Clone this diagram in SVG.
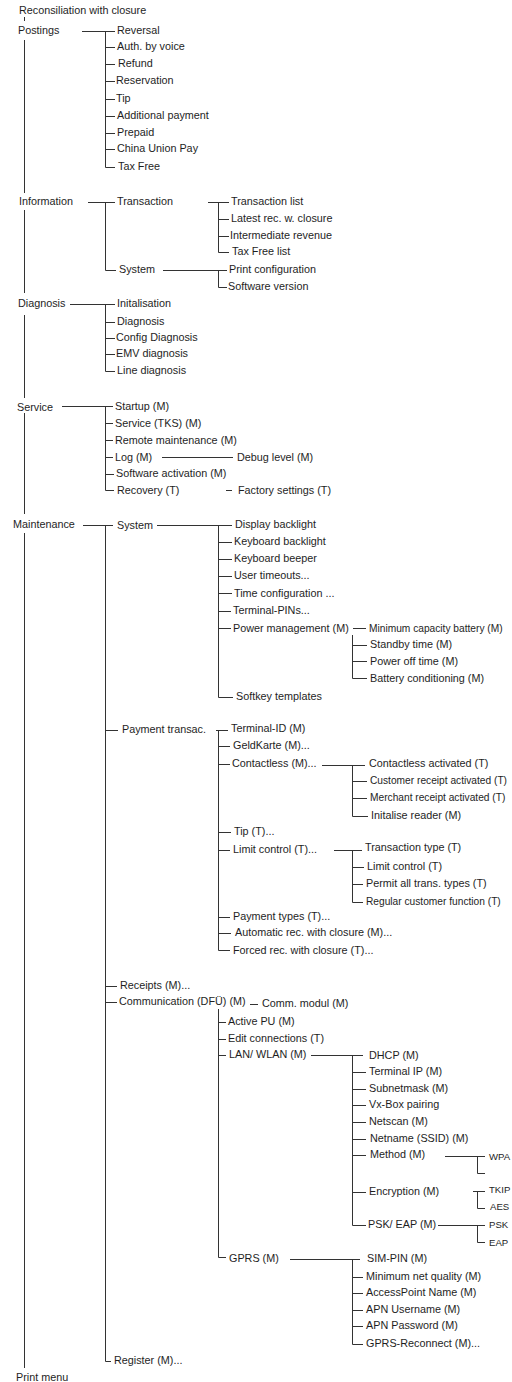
<svg xmlns="http://www.w3.org/2000/svg" width="512" height="1382" viewBox="0 0 512 1382">
<style>
text{font-family:"Liberation Sans",Arial,sans-serif;font-size:10.8px;fill:#1e1e1e}
.s{font-size:10.2px}
.xs{font-size:9.6px}
.c path{stroke:#333;stroke-width:1;fill:none}
</style>
<rect width="512" height="1382" fill="#fff"/>
<g class="c" id="connectors">
<path d="M24.5 17V21M24.5 40V193M24.5 210V293M24.5 315V398M24.5 413V514M24.5 533V1368"/>
<path d="M82 31.5H115M105.5 31.5V167.5H115M105 47.5H115M105 64.5H115M105 81.5H115M105 99.5H115M105 116.5H115M105 133.5H115M105 149.5H115"/>
<path d="M88 202.5H115M105.5 202.5V270.5H116M208 202.5H229M218.5 202.5V252.5H229M218 219.5H229M218 236.5H229M163 270.5H227M218.5 270.5V287.5H227"/>
<path d="M70 304.5H115M105.5 304.5V371.5H115M105 322.5H115M105 338.5H115M105 354.5H115"/>
<path d="M62 406.5H113M105.5 406.5V490.5H114M105 423.5H113M105 440.5H113M105 457.5H113M105 474.5H114M162 457.5H233M226 490.5H232"/>
<path d="M83 525.5H113M105.5 525.5V1361.5H111"/>
<path d="M157 525.5H232M218.5 525.5V697.5H233M218 542.5H232M218 559.5H232M218 576.5H232M218 593.5H232M218 611.5H231M218 628.5H231M353 628.5H366M352.5 635V678.5H367M352 645.5H367M352 661.5H367"/>
<path d="M105 730.5H118M216 730.5H228M218.5 730.5V950.5H230M218 746.5H230M218 764.5H230M218 832.5H231M218 850.5H230M218 917.5H230M218 933.5H231M322 765.5H365M352.5 765.5V816.5H368M352 781.5H367M352 798.5H367M334 850.5H362M352.5 850.5V902.5H363M352 867.5H364M352 884.5H363"/>
<path d="M105 986.5H117M105 1002.5H117M250 1004.5H258M218.5 1009V1257.5H226M218 1022.5H226M218 1039.5H226M218 1055.5H226M311 1055.5H363M352.5 1055.5V1225.5H366M352 1072.5H366M352 1089.5H366M352 1105.5H366M352 1122.5H366M352 1139.5H366M352 1155.5H366M352 1192.5H366M445 1156.5H485M477.5 1156.5V1173.5H485M473 1191.5H485M477.5 1191.5V1208.5H485M438 1225.5H485M477.5 1225.5V1242.5H485"/>
<path d="M290 1259.5H360M352.5 1259.5V1344.5H363M352 1277.5H363M352 1293.5H363M352 1310.5H363M352 1326.5H363"/>
</g>
<g id="n-recon"><text x="19" y="14">Reconsiliation with closure</text></g>
<g id="n-postings"><text x="18" y="34">Postings</text></g>
<g id="n-reversal"><text x="117" y="34">Reversal</text></g>
<g id="n-auth"><text x="117" y="50">Auth. by voice</text></g>
<g id="n-refund"><text x="118" y="67">Refund</text></g>
<g id="n-reservation"><text x="116" y="84">Reservation</text></g>
<g id="n-tip"><text x="116" y="102">Tip</text></g>
<g id="n-addpay"><text x="117" y="119">Additional payment</text></g>
<g id="n-prepaid"><text x="117" y="136">Prepaid</text></g>
<g id="n-cup"><text x="117" y="152">China Union Pay</text></g>
<g id="n-taxfree"><text x="118" y="170">Tax Free</text></g>
<g id="n-information"><text x="19" y="205">Information</text></g>
<g id="n-transaction"><text x="117" y="205">Transaction</text></g>
<g id="n-translist"><text x="231" y="205">Transaction list</text></g>
<g id="n-latest"><text x="231" y="222">Latest rec. w. closure</text></g>
<g id="n-interm"><text x="230" y="239">Intermediate revenue</text></g>
<g id="n-taxfreelist"><text x="232" y="255">Tax Free list</text></g>
<g id="n-infosystem"><text x="119" y="273">System</text></g>
<g id="n-printconf"><text x="229" y="273">Print configuration</text></g>
<g id="n-swversion"><text x="228" y="290">Software version</text></g>
<g id="n-diagnosis"><text x="18" y="307">Diagnosis</text></g>
<g id="n-init"><text x="117" y="307">Initalisation</text></g>
<g id="n-diag2"><text x="117" y="325">Diagnosis</text></g>
<g id="n-configdiag"><text x="116" y="341">Config Diagnosis</text></g>
<g id="n-emv"><text x="116" y="357">EMV diagnosis</text></g>
<g id="n-linediag"><text x="117" y="374">Line diagnosis</text></g>
<g id="n-service"><text x="17" y="411">Service</text></g>
<g id="n-startup"><text x="115" y="410">Startup (M)</text></g>
<g id="n-tks"><text x="115" y="427">Service (TKS) (M)</text></g>
<g id="n-remote"><text x="115" y="444">Remote maintenance (M)</text></g>
<g id="n-log"><text x="115" y="461">Log (M)</text></g>
<g id="n-debug"><text x="237" y="461">Debug level (M)</text></g>
<g id="n-swact"><text x="116" y="477">Software activation (M)</text></g>
<g id="n-recovery"><text x="117" y="494">Recovery (T)</text></g>
<g id="n-factory"><text x="238" y="494">Factory settings (T)</text></g>
<g id="n-maintenance"><text x="13" y="528">Maintenance</text></g>
<g id="n-msystem"><text x="117" y="529">System</text></g>
<g id="n-display"><text x="235" y="528">Display backlight</text></g>
<g id="n-kbback"><text x="234" y="545">Keyboard backlight</text></g>
<g id="n-kbbeep"><text x="234" y="562">Keyboard beeper</text></g>
<g id="n-usertime"><text x="234" y="579">User timeouts...</text></g>
<g id="n-timeconf"><text x="234" y="597">Time  configuration ...</text></g>
<g id="n-pins"><text x="233" y="614">Terminal-PINs...</text></g>
<g id="n-power"><text x="233" y="632">Power management (M)</text></g>
<g id="n-mincap"><text class="s" x="369" y="632">Minimum capacity battery (M)</text></g>
<g id="n-standby"><text x="370" y="648">Standby time  (M)</text></g>
<g id="n-poweroff"><text x="370" y="665">Power off  time (M)</text></g>
<g id="n-batcond"><text x="370" y="682">Battery conditioning (M)</text></g>
<g id="n-softkey"><text x="236" y="700">Softkey templates</text></g>
<g id="n-payment"><text x="122" y="733">Payment transac.</text></g>
<g id="n-termid"><text x="231" y="732">Terminal-ID  (M)</text></g>
<g id="n-geldkarte"><text x="233" y="749">GeldKarte (M)...</text></g>
<g id="n-contactless"><text x="232" y="767">Contactless (M)...</text></g>
<g id="n-clact"><text x="369" y="767">Contactless activated (T)</text></g>
<g id="n-custrec"><text class="s" x="370" y="784">Customer receipt activated (T)</text></g>
<g id="n-merchrec"><text class="s" x="370" y="801">Merchant receipt activated (T)</text></g>
<g id="n-initreader"><text x="371" y="819">Initalise reader (M)</text></g>
<g id="n-tipt"><text x="234" y="835">Tip  (T)...</text></g>
<g id="n-limit"><text x="233" y="853">Limit control (T)...</text></g>
<g id="n-transtype"><text x="365" y="851">Transaction type (T)</text></g>
<g id="n-limit2"><text x="367" y="870">Limit control  (T)</text></g>
<g id="n-permit"><text x="366" y="887">Permit  all trans. types (T)</text></g>
<g id="n-regular"><text class="s" x="366" y="905">Regular customer function (T)</text></g>
<g id="n-paytypes"><text x="233" y="920">Payment types (T)...</text></g>
<g id="n-autorec"><text x="235" y="936">Automatic  rec. with closure (M)...</text></g>
<g id="n-forcedrec"><text x="233" y="954">Forced  rec. with closure  (T)...</text></g>
<g id="n-receipts"><text x="120" y="989">Receipts (M)...</text></g>
<g id="n-comm"><text x="119" y="1005">Communication  (DFÜ)  (M)</text></g>
<g id="n-commmodul"><text x="262" y="1007">Comm.  modul  (M)</text></g>
<g id="n-activepu"><text x="228" y="1025">Active PU  (M)</text></g>
<g id="n-editconn"><text x="228" y="1042">Edit  connections (T)</text></g>
<g id="n-lan"><text x="229" y="1058">LAN/ WLAN (M)</text></g>
<g id="n-dhcp"><text x="369" y="1059">DHCP  (M)</text></g>
<g id="n-termip"><text x="369" y="1075">Terminal IP  (M)</text></g>
<g id="n-subnet"><text x="369" y="1092">Subnetmask (M)</text></g>
<g id="n-vxbox"><text x="369" y="1108">Vx-Box pairing</text></g>
<g id="n-netscan"><text x="369" y="1125">Netscan (M)</text></g>
<g id="n-netname"><text x="370" y="1142">Netname  (SSID)  (M)</text></g>
<g id="n-method"><text x="370" y="1158">Method  (M)</text></g>
<g id="n-wpa"><text class="xs" x="489" y="1160">WPA</text></g>
<g id="n-encryption"><text x="369" y="1195">Encryption (M)</text></g>
<g id="n-tkip"><text class="xs" x="489" y="1193">TKIP</text></g>
<g id="n-aes"><text class="xs" x="490" y="1210">AES</text></g>
<g id="n-pskeap"><text x="368" y="1228">PSK/ EAP  (M)</text></g>
<g id="n-psk"><text class="xs" x="489" y="1228">PSK</text></g>
<g id="n-eap"><text class="xs" x="489" y="1246">EAP</text></g>
<g id="n-gprs"><text x="229" y="1262">GPRS  (M)</text></g>
<g id="n-simpin"><text x="367" y="1262">SIM-PIN  (M)</text></g>
<g id="n-minnet"><text x="366" y="1280">Minimum  net quality (M)</text></g>
<g id="n-apname"><text x="366" y="1296">AccessPoint Name  (M)</text></g>
<g id="n-apnuser"><text x="366" y="1313">APN  Username (M)</text></g>
<g id="n-apnpass"><text x="366" y="1329">APN  Password (M)</text></g>
<g id="n-reconnect"><text x="366" y="1347">GPRS-Reconnect  (M)...</text></g>
<g id="n-register"><text x="114" y="1364">Register  (M)...</text></g>
<g id="n-printmenu"><text x="16" y="1381">Print menu</text></g>
</svg>
